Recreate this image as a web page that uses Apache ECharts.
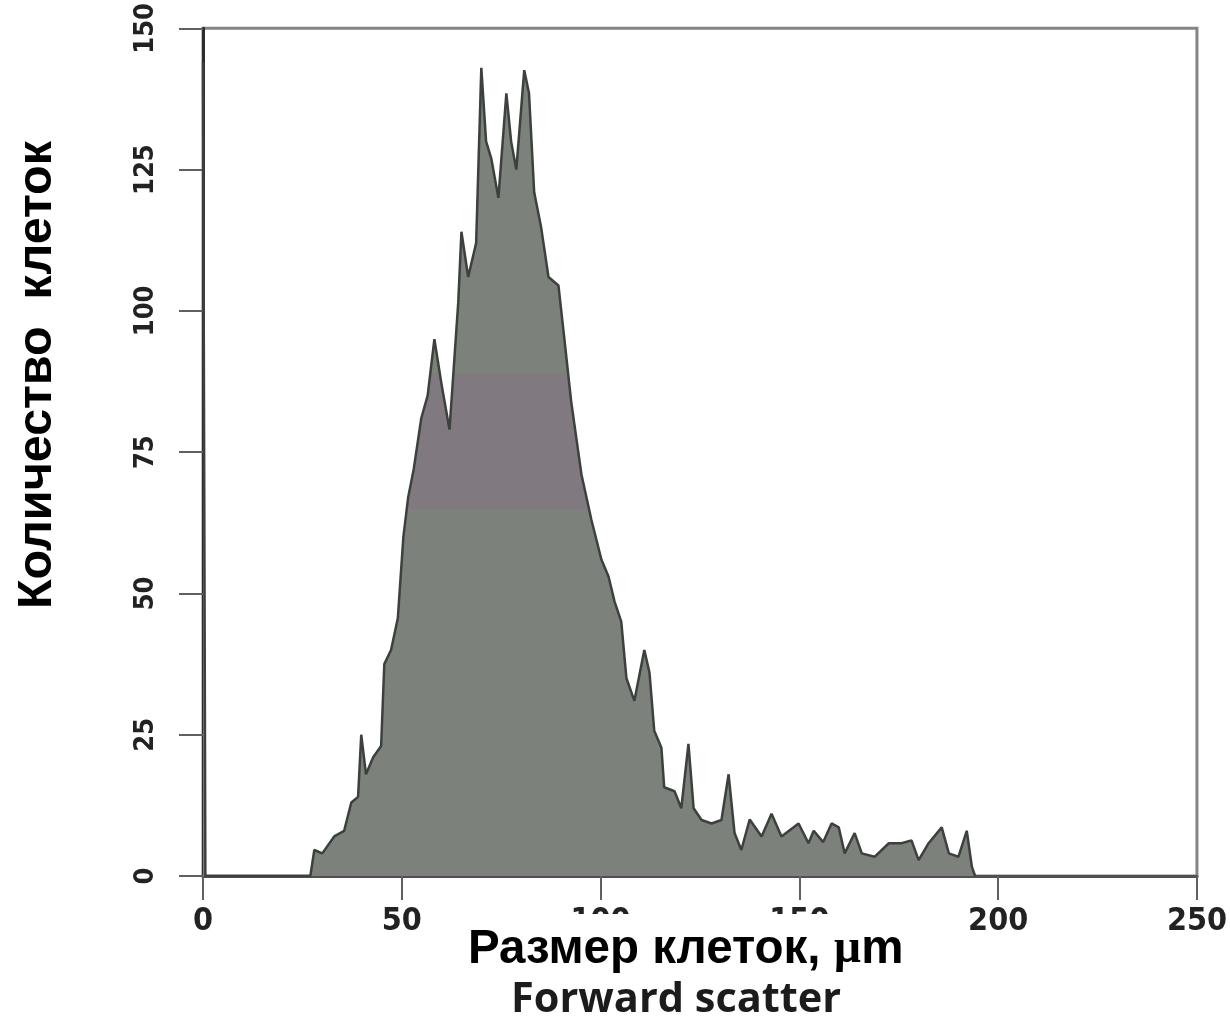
<!DOCTYPE html>
<html>
<head>
<meta charset="utf-8">
<script src="https://cdn.jsdelivr.net/npm/echarts@6/dist/echarts.min.js"></script>
<style>
  html, body { margin: 0; padding: 0; background: #fff; }
  #chart { width: 1230px; height: 1027px; }
</style>
</head>
<body>
<div id="chart"></div>
<script>
// размер клеток (forward scatter), µm
const sizeUm = [
  0, 0.6, 27, 28, 30, 33, 35.5, 37.3, 39, 39.8, 41, 42.8, 44.8, 45.6, 47.3, 49,
  50.4, 51.6, 53, 54.9, 56.5, 58.2, 60, 62, 64.2, 65, 66.7, 68.7, 70, 71.2, 72.5,
  74.3, 76.3, 77.5, 78.8, 80.8, 82, 83.3, 85, 86.9, 89.4, 90.9, 92.6, 95.2, 97.7,
  100.2, 102, 103.5, 105.2, 106.5, 108.5, 111, 112.3, 113.5, 115.3, 116, 118.6,
  120.3, 122.1, 123.4, 125.4, 127.9, 130.4, 132.2, 133.7, 135.4, 137.5, 140.5,
  143, 145.5, 149.8, 152.3, 153.6, 156, 158.1, 159.9, 161.4, 163.9, 165.7, 168.9,
  172.5, 175.7, 178.2, 180, 182.5, 185.8, 187.6, 190, 192.1, 193.4, 194.2
]
// количество клеток
const cellCount = [
  144, 0, 0, 4.6, 4, 7, 8, 13, 14, 25, 18, 21, 23, 37.5, 40, 45.6,
  60, 67, 72, 81, 85, 95, 87, 79, 101.5, 114, 106, 112, 143, 130, 127,
  120, 138.5, 130, 125, 142.6, 138.5, 121, 115, 106, 104.5, 95, 84, 71, 63,
  56, 53, 48.6, 45, 35, 31, 40, 36, 25.7, 22.7, 15.7, 15,
  12, 23.4, 12, 9.9, 9.3, 9.9, 18, 7.6, 4.6, 10, 7,
  11, 7, 9.3, 5.8, 8, 6, 9.3, 8.6, 4, 7.6, 4, 3.4,
  5.8, 5.8, 6.3, 2.8, 5.8, 8.6, 4, 3.4, 8, 1.6, 0
]
const xTicks = [0, 50, 100, 150, 200, 250]
const yTicks = [0, 25, 50, 75, 100, 125, 150]

const tickFont = "'DejaVu Sans Condensed', sans-serif"

let chart = echarts.init(document.getElementById('chart'))

let option = {
  backgroundColor: '#fff',
  animation: false,
  grid: {
    left: 203,
    right: 33,
    top: 25,
    bottom: 151,
    show: true,
    borderColor: '#858585',
    borderWidth: 3
  },
  title: [
    {
      text: '{a|Размер клеток, }{mu|µ}{a|m}',
      left: 438,
      top: 911,
      backgroundColor: '#fff',
      padding: [12, 30, 10, 30],
      textStyle: {
        rich: {
          a: { fontFamily: 'Liberation Sans, Arial, sans-serif', fontWeight: 'bold', fontSize: 47.5, color: '#000', lineHeight: 54 },
          mu: { fontFamily: 'Liberation Serif, serif', fontWeight: 'bold', fontSize: 47.5, color: '#000', lineHeight: 54 }
        }
      }
    },
    {
      text: 'Forward scatter',
      left: 511,
      top: 975,
      padding: 0,
      textStyle: {
        fontFamily: 'Open Sans, sans-serif',
        fontWeight: 'bold',
        fontSize: 41.5,
        lineHeight: 50,
        color: '#1c1c1c'
      }
    }
  ],
  graphic: [
    {
      type: 'text',
      x: 38,
      y: 375,
      rotation: Math.PI / 2,
      style: {
        text: 'Количество  клеток',
        fontFamily: 'Liberation Sans, Arial, sans-serif',
        fontWeight: 'bold',
        fontSize: 48.5,
        fill: '#000',
        align: 'center',
        verticalAlign: 'middle'
      }
    }
  ],
  visualMap: {
    show: false,
    type: 'piecewise',
    dimension: 1,
    seriesIndex: 0,
    pieces: [
      { lt: 65, color: '#7c817c' },
      { gte: 65, lte: 89, color: '#807a80' },
      { gt: 89, color: '#7c817c' }
    ]
  },
  xAxis: {
    type: 'value',
    min: 0,
    max: 250,
    interval: 50,
    splitLine: { show: false },
    axisLine: { lineStyle: { color: '#505050', width: 3 } },
    axisTick: { length: 24, lineStyle: { color: '#606060', width: 2 } },
    axisLabel: {
      margin: 30,
      fontFamily: tickFont,
      fontWeight: 'bold',
      fontSize: 32,
      color: '#222',
      customValues: xTicks
    }
  },
  yAxis: {
    type: 'value',
    min: 0,
    max: 150,
    interval: 25,
    splitLine: { show: false },
    axisLine: { lineStyle: { color: '#2c2c2c', width: 3 } },
    axisTick: { length: 24, lineStyle: { color: '#606060', width: 2 } },
    axisLabel: {
      rotate: 90,
      margin: 44,
      fontFamily: tickFont,
      fontWeight: 'bold',
      fontSize: 27,
      color: '#222',
      customValues: yTicks
    }
  },
  series: [
    {
      type: 'line',
      data: sizeUm.map((x, i) => [x, cellCount[i]]),
      showSymbol: false,
      symbol: 'none',
      lineStyle: { color: '#3d413d', width: 2.5 },
      areaStyle: { opacity: 1 },
      z: 1
    }
  ]
}

chart.setOption(option)
</script>
</body>
</html>
